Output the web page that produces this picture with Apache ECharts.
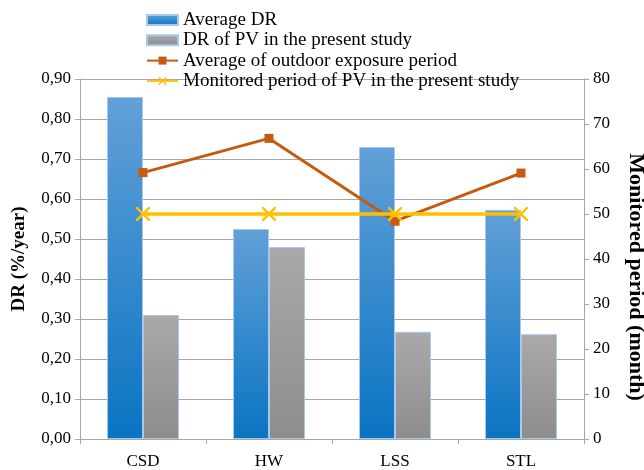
<!DOCTYPE html>
<html>
<head>
<meta charset="utf-8">
<script src="https://cdn.jsdelivr.net/npm/echarts@6/dist/echarts.min.js"></script>
<style>
  html, body { margin: 0; padding: 0; background: #fff; }
  #chart { width: 644px; height: 470px; }
</style>
</head>
<body>
<div id="chart"></div>
<script>
// Degradation rate (DR) by technology and monitoring periods
var categories = ['CSD', 'HW', 'LSS', 'STL'];
var averageDR = [0.855, 0.525, 0.73, 0.573];
var presentDR = [0.31, 0.48, 0.268, 0.262];
var avgExposure = [59.2, 66.8, 48.4, 59.1];
var monitoredPeriod = [50, 50, 50, 50];

var FONT = 'Liberation Serif';
var GRID_COLOR = '#a6a6a6';

var xMark = 'path://M0,0 L1.2,0 L5,3.8 L8.8,0 L10,0 L10,1.2 L6.2,5 L10,8.8 L10,10 L8.8,10 L5,6.2 L1.2,10 L0,10 L0,8.8 L3.8,5 L0,1.2 Z';

var chart = echarts.init(document.getElementById('chart'), null, { renderer: 'canvas' });

chart.setOption({
  animation: false,
  backgroundColor: '#ffffff',
  textStyle: { fontFamily: FONT, color: '#000' },
  grid: { left: 80, right: 60, top: 79, bottom: 31, containLabel: false, outerBoundsMode: 'none' },
  legend: {
    orient: 'vertical',
    left: 146,
    top: 10,
    padding: 0,
    itemWidth: 31,
    itemHeight: 10,
    itemGap: 0.3,
    textStyle: { fontFamily: FONT, fontSize: 19, color: '#000', lineHeight: 20 },
    data: [
      { name: 'Average DR', icon: 'rect' },
      { name: 'DR of PV in the present study', icon: 'rect' },
      { name: 'Average of outdoor exposure period' },
      { name: 'Monitored period of PV in the present study' }
    ]
  },
  xAxis: {
    type: 'category',
    data: categories,
    boundaryGap: true,
    axisLine: { lineStyle: { color: GRID_COLOR, width: 1 } },
    axisTick: { show: true, length: 5, lineStyle: { color: GRID_COLOR } },
    axisLabel: { fontFamily: FONT, fontSize: 17, color: '#000', margin: 14 }
  },
  yAxis: [
    {
      type: 'value',
      min: 0, max: 0.9, interval: 0.1,
      name: 'DR (%/year)',
      nameLocation: 'middle',
      nameGap: 51,
      nameTextStyle: { fontFamily: FONT, fontSize: 19, fontWeight: 'bold', color: '#000' },
      axisLine: { show: true, lineStyle: { color: GRID_COLOR } },
      axisTick: { show: true, length: 5, lineStyle: { color: GRID_COLOR } },
      axisLabel: {
        fontFamily: FONT, fontSize: 17, color: '#000', margin: 9,
        formatter: function (v) { return v.toFixed(2).replace('.', ','); }
      },
      splitLine: { show: true, lineStyle: { color: GRID_COLOR, width: 1 } }
    },
    {
      type: 'value',
      min: 0, max: 80, interval: 10,
      name: 'Monitored period (month)',
      nameLocation: 'middle',
      nameGap: 41,
      nameRotate: -90,
      nameTextStyle: {
        fontFamily: FONT, fontSize: 22, fontWeight: 'bold', color: '#000',
        padding: [0, 0, 0, 36]
      },
      axisLine: { show: true, lineStyle: { color: GRID_COLOR } },
      axisTick: { show: true, length: 5, lineStyle: { color: GRID_COLOR } },
      axisLabel: { fontFamily: FONT, fontSize: 17, color: '#000', margin: 9 },
      splitLine: { show: false }
    }
  ],
  series: [
    {
      name: 'Average DR',
      type: 'bar',
      data: averageDR,
      barWidth: 36,
      barGap: '0%',
      itemStyle: {
        color: new echarts.graphic.LinearGradient(0, 0, 0, 1, [
          { offset: 0, color: '#62a0d8' },
          { offset: 1, color: '#0a74c2' }
        ]),
        borderColor: '#a9c8ec',
        borderWidth: 1
      }
    },
    {
      name: 'DR of PV in the present study',
      type: 'bar',
      data: presentDR,
      barWidth: 36,
      itemStyle: {
        color: new echarts.graphic.LinearGradient(0, 0, 0, 1, [
          { offset: 0, color: '#a9a9a9' },
          { offset: 1, color: '#8d8d8d' }
        ]),
        borderColor: '#a9c8ec',
        borderWidth: 1
      }
    },
    {
      name: 'Average of outdoor exposure period',
      type: 'line',
      yAxisIndex: 1,
      data: avgExposure,
      symbol: 'rect',
      symbolSize: 9,
      lineStyle: { color: '#c55a11', width: 3 },
      itemStyle: { color: '#c55a11' }
    },
    {
      name: 'Monitored period of PV in the present study',
      type: 'line',
      yAxisIndex: 1,
      data: monitoredPeriod,
      symbol: xMark,
      symbolSize: 14,
      lineStyle: { color: '#ffc000', width: 3.5 },
      itemStyle: { color: '#ffc000' }
    }
  ]
});
</script>
</body>
</html>
